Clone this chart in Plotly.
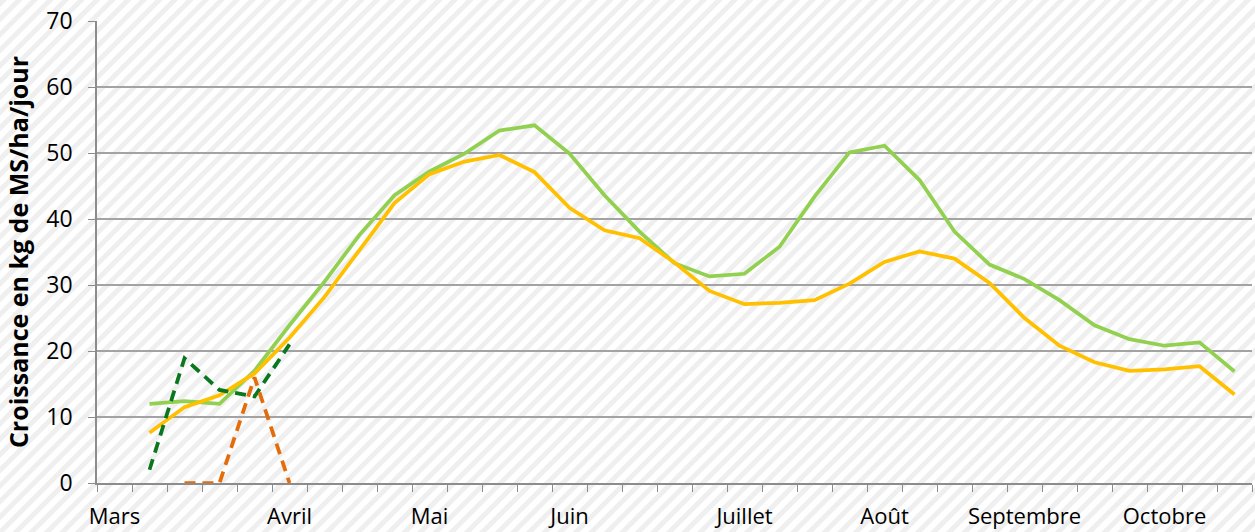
import urllib.parse
import plotly.graph_objects as go

# --- data -------------------------------------------------------------
weeks = list(range(33))  # weekly categories from early March to end of October
month_labels = ["Mars", "Avril", "Mai", "Juin", "Juillet", "Août", "Septembre", "Octobre"]
month_weeks = [0, 5, 9, 13, 18, 22, 26, 30]

green_mean = [None, 12.0, 12.4, 12.0, 17.0, 23.9, 30.5, 37.6, 43.6, 47.2, 49.9, 53.4, 54.2,
              49.9, 43.6, 38.1, 33.3, 31.3, 31.7, 35.8, 43.4, 50.1, 51.1, 45.9, 38.1,
              33.1, 30.9, 27.7, 23.9, 21.8, 20.8, 21.3, 16.9]
yellow_mean = [None, 7.6, 11.5, 13.3, 16.6, 22.0, 28.2, 35.3, 42.4, 46.8, 48.7, 49.7, 47.1,
               41.7, 38.3, 37.1, 33.4, 29.1, 27.1, 27.3, 27.7, 30.2, 33.5, 35.1, 34.0,
               30.3, 25.0, 20.8, 18.3, 17.0, 17.2, 17.7, 13.4]
darkgreen_year = [None, 2.0, 18.9, 14.1, 13.1, 21.0] + [None] * 27
orange_year = [None, None, 0.0, 0.0, 16.0, 0.0] + [None] * 27

# --- layout geometry ---------------------------------------------------
W, H = 1255, 532
ml, mr, mt, mb = 97, 3, 21, 49
pw, ph = W - ml - mr, H - mt - mb

stripe_svg = (
    "<svg xmlns='http://www.w3.org/2000/svg' width='{w}' height='{h}'>"
    "<defs><pattern id='p' width='11' height='11' patternUnits='userSpaceOnUse' "
    "patternTransform='rotate(45)'>"
    "<rect width='11' height='11' fill='white'/>"
    "<rect width='5' height='11' fill='#efefef'/>"
    "</pattern></defs>"
    "<rect width='100%' height='100%' fill='url(#p)'/></svg>"
).format(w=W, h=H)
stripe_uri = "data:image/svg+xml;charset=utf-8," + urllib.parse.quote(stripe_svg)

fig = go.Figure()
fig.add_trace(go.Scatter(x=weeks, y=green_mean, mode="lines",
                         line=dict(color="#92D050", width=3.75), showlegend=False))
fig.add_trace(go.Scatter(x=weeks, y=yellow_mean, mode="lines",
                         line=dict(color="#FFC000", width=3.75), showlegend=False))
fig.add_trace(go.Scatter(x=weeks, y=darkgreen_year, mode="lines",
                         line=dict(color="#0A761E", width=3.75, dash="11px,7px"),
                         showlegend=False))
fig.add_trace(go.Scatter(x=weeks, y=orange_year, mode="lines",
                         line=dict(color="#E46C0A", width=3.75, dash="11px,7px"),
                         showlegend=False))

fig.update_layout(
    width=W, height=H,
    margin=dict(l=ml, r=mr, t=mt, b=mb, pad=0),
    paper_bgcolor="white",
    plot_bgcolor="rgba(0,0,0,0)",
    font=dict(family="Open Sans", color="#000000"),
    images=[dict(source=stripe_uri, xref="paper", yref="paper",
                 x=-ml / pw, y=1 + mt / ph, sizex=W / pw, sizey=H / ph,
                 xanchor="left", yanchor="top", sizing="stretch", layer="below")],
    xaxis=dict(
        range=[-0.5, 32.5],
        tickmode="array", tickvals=month_weeks, ticktext=month_labels,
        ticks="", showgrid=False, zeroline=False,
        showline=True, linecolor="#8c8c8c", linewidth=1.5,
        tickfont=dict(size=22, family="Open Sans"),
        ticklabelstandoff=13,
        automargin=False,
        minor=dict(tickmode="array", tickvals=[k - 0.5 for k in range(34)],
                   ticks="outside", ticklen=7, tickcolor="#8c8c8c", tickwidth=1,
                   showgrid=False),
    ),
    yaxis=dict(
        range=[0, 70], tickmode="array", tickvals=list(range(0, 71, 10)),
        ticks="outside", ticklen=7, tickcolor="#8c8c8c",
        showgrid=True, gridcolor="#a3a3a3", gridwidth=1.5,
        zeroline=False, showline=True, linecolor="#8c8c8c", linewidth=1.5,
        tickfont=dict(size=23, family="Open Sans"),
        ticklabelstandoff=11,
        automargin=False,
        title=dict(text="<b>Croissance en kg de MS/ha/jour</b>",
                   font=dict(size=25, family="Open Sans"), standoff=11),
    ),
)

fig.write_html("out.html", post_script="document.body.style.margin='0';",
               config={"displayModeBar": False})
